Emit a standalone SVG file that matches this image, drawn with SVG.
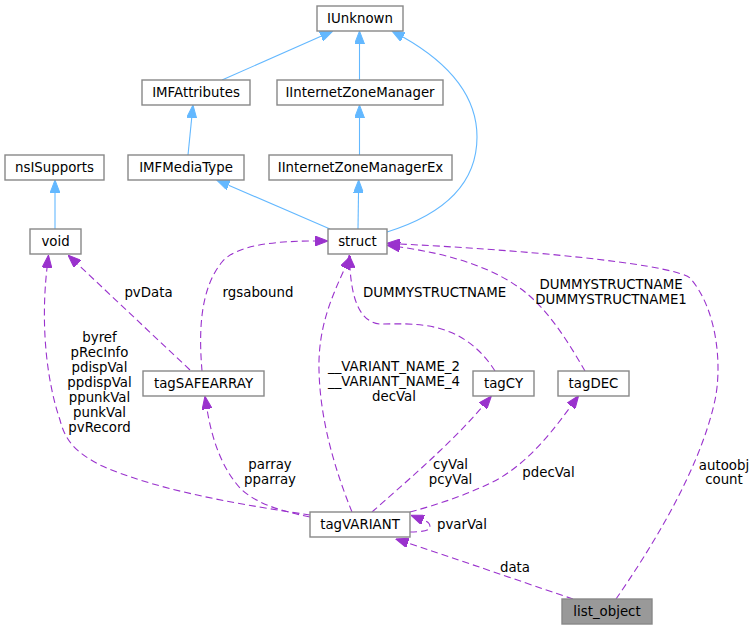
<svg xmlns="http://www.w3.org/2000/svg" width="756" height="631" viewBox="0 0 756 631">
<style>
  .box { fill: #ffffff; stroke: #888888; stroke-width: 1.4; }
  .box.root { fill: #999999; }
  text { font-family: "DejaVu Sans", "Liberation Sans", sans-serif; font-size: 13.33px; fill: #000000; text-anchor: middle; }
  .inh { fill: none; stroke: #63b8ff; stroke-width: 1.1; }
  .use { fill: none; stroke: #9a32cd; stroke-width: 1.1; stroke-dasharray: 7 4; }
</style>
<defs>
  <marker id="ab" markerUnits="userSpaceOnUse" viewBox="0 0 13 10" refX="0" refY="5" markerWidth="13" markerHeight="10" orient="auto">
    <path d="M0,0 L13,5 L0,10 z" fill="#63b8ff" stroke="#63b8ff" stroke-width="1"/>
  </marker>
  <marker id="ap" markerUnits="userSpaceOnUse" viewBox="0 0 13 10" refX="0" refY="5" markerWidth="13" markerHeight="10" orient="auto">
    <path d="M0,0 L13,5 L0,10 z" fill="#9a32cd" stroke="#9a32cd" stroke-width="1"/>
  </marker>
</defs>
<rect width="756" height="631" fill="#ffffff"/>

<g id="connectors">
  <path class="inh" d="M222,80 L321,36.3" marker-end="url(#ab)"/>
  <path class="inh" d="M359.5,80 L359.5,44" marker-end="url(#ab)"/>
  <path class="inh" d="M188,155 L191.7,118" marker-end="url(#ab)"/>
  <path class="inh" d="M359.5,155 L359.5,118" marker-end="url(#ab)"/>
  <path class="inh" d="M55,229 L55,193" marker-end="url(#ab)"/>
  <path class="inh" d="M330,229 L228.6,185.2" marker-end="url(#ab)"/>
  <path class="inh" d="M358,229 L358.5,193" marker-end="url(#ab)"/>
  <path class="inh" d="M387,232 C435,217 477,190 477,137 C477,90 440,58 403,37" marker-end="url(#ab)"/>

  <path class="use" d="M190,370 L77.5,264" marker-end="url(#ap)"/>
  <path class="use" d="M202,371 C199,335 199,290 222,262 C236,245 275,241 315,241" marker-end="url(#ap)"/>
  <path class="use" d="M310,515 C250,506 160,492 100,465 C75,452 65,440 60,420 C48,385 40,330 47,268" marker-end="url(#ap)"/>
  <path class="use" d="M310,517 C280,511 255,503 240,488 C222,468 212,440 207,409" marker-end="url(#ap)"/>
  <path class="use" d="M352,512 C335,470 320,420 319,370 C318,330 330,300 345,268" marker-end="url(#ap)"/>
  <path class="use" d="M495,371 C485,355 470,340 450,332 C425,322 400,324 380,324 C360,322 352,300 350,268" marker-end="url(#ap)"/>
  <path class="use" d="M585,371 C570,345 550,312 525,292 C495,268 450,254 400,247" marker-end="url(#ap)"/>
  <path class="use" d="M616,599 C650,550 700,470 715,400 C722,367 718,310 690,278 C675,266 560,252 400,244" marker-end="url(#ap)"/>
  <path class="use" d="M573,599 C540,588 480,567 408,543" marker-end="url(#ap)"/>
  <path class="use" d="M372,512 C400,487 450,445 483,406" marker-end="url(#ap)"/>
  <path class="use" d="M410,512 C440,504 475,492 500,478 C530,460 552,432 571,406" marker-end="url(#ap)"/>
  <path class="use" d="M410,532 C420,532 430,531 430,527 C430,523 428,522 423,520" marker-end="url(#ap)"/>

  <g id="edge-labels">
    <text x="148.5" y="297">pvData</text>
    <text x="258" y="297">rgsabound</text>
    <text x="434.5" y="297">DUMMYSTRUCTNAME</text>
    <text x="611" y="289">DUMMYSTRUCTNAME</text>
    <text x="611" y="304">DUMMYSTRUCTNAME1</text>
    <text x="99.5" y="342">byref</text>
    <text x="99.5" y="357">pRecInfo</text>
    <text x="99.5" y="372">pdispVal</text>
    <text x="99.5" y="387">ppdispVal</text>
    <text x="99.5" y="402">ppunkVal</text>
    <text x="99.5" y="417">punkVal</text>
    <text x="99.5" y="432">pvRecord</text>
    <text x="394" y="371">__VARIANT_NAME_2</text>
    <text x="394" y="386">__VARIANT_NAME_4</text>
    <text x="394" y="401">decVal</text>
    <text x="270" y="469">parray</text>
    <text x="270" y="484">pparray</text>
    <text x="450.5" y="469">cyVal</text>
    <text x="450.5" y="484">pcyVal</text>
    <text x="548.5" y="477">pdecVal</text>
    <text x="724" y="470">autoobj</text>
    <text x="724" y="484">count</text>
    <text x="462" y="528.5">pvarVal</text>
    <text x="515" y="571.5">data</text>
  </g>
</g>

<g id="IUnknown"><rect class="box" x="317" y="6" width="86" height="25"/><text x="360" y="23">IUnknown</text></g>
<g id="IMFAttributes"><rect class="box" x="142" y="80" width="108" height="25"/><text x="196" y="97">IMFAttributes</text></g>
<g id="IInternetZoneManager"><rect class="box" x="277" y="80" width="166" height="25"/><text x="360" y="97">IInternetZoneManager</text></g>
<g id="nsISupports"><rect class="box" x="5" y="155" width="99" height="25"/><text x="54.5" y="172">nsISupports</text></g>
<g id="IMFMediaType"><rect class="box" x="128" y="155" width="116" height="25"/><text x="186" y="172">IMFMediaType</text></g>
<g id="IInternetZoneManagerEx"><rect class="box" x="269" y="155" width="183" height="25"/><text x="360.5" y="172">IInternetZoneManagerEx</text></g>
<g id="void"><rect class="box" x="30" y="229" width="51" height="25"/><text x="55.5" y="246">void</text></g>
<g id="struct"><rect class="box" x="328" y="229" width="59" height="25"/><text x="357.5" y="246">struct</text></g>
<g id="tagSAFEARRAY"><rect class="box" x="143" y="371" width="121" height="25"/><text x="203.5" y="388">tagSAFEARRAY</text></g>
<g id="tagCY"><rect class="box" x="473" y="371" width="61" height="25"/><text x="503.5" y="388">tagCY</text></g>
<g id="tagDEC"><rect class="box" x="558" y="371" width="71" height="25"/><text x="593.5" y="388">tagDEC</text></g>
<g id="tagVARIANT"><rect class="box" x="310" y="512" width="100" height="25"/><text x="360" y="529">tagVARIANT</text></g>
<g id="list_object"><rect class="box root" x="562" y="599" width="90" height="25"/><text x="607" y="616">list_object</text></g>
</svg>
